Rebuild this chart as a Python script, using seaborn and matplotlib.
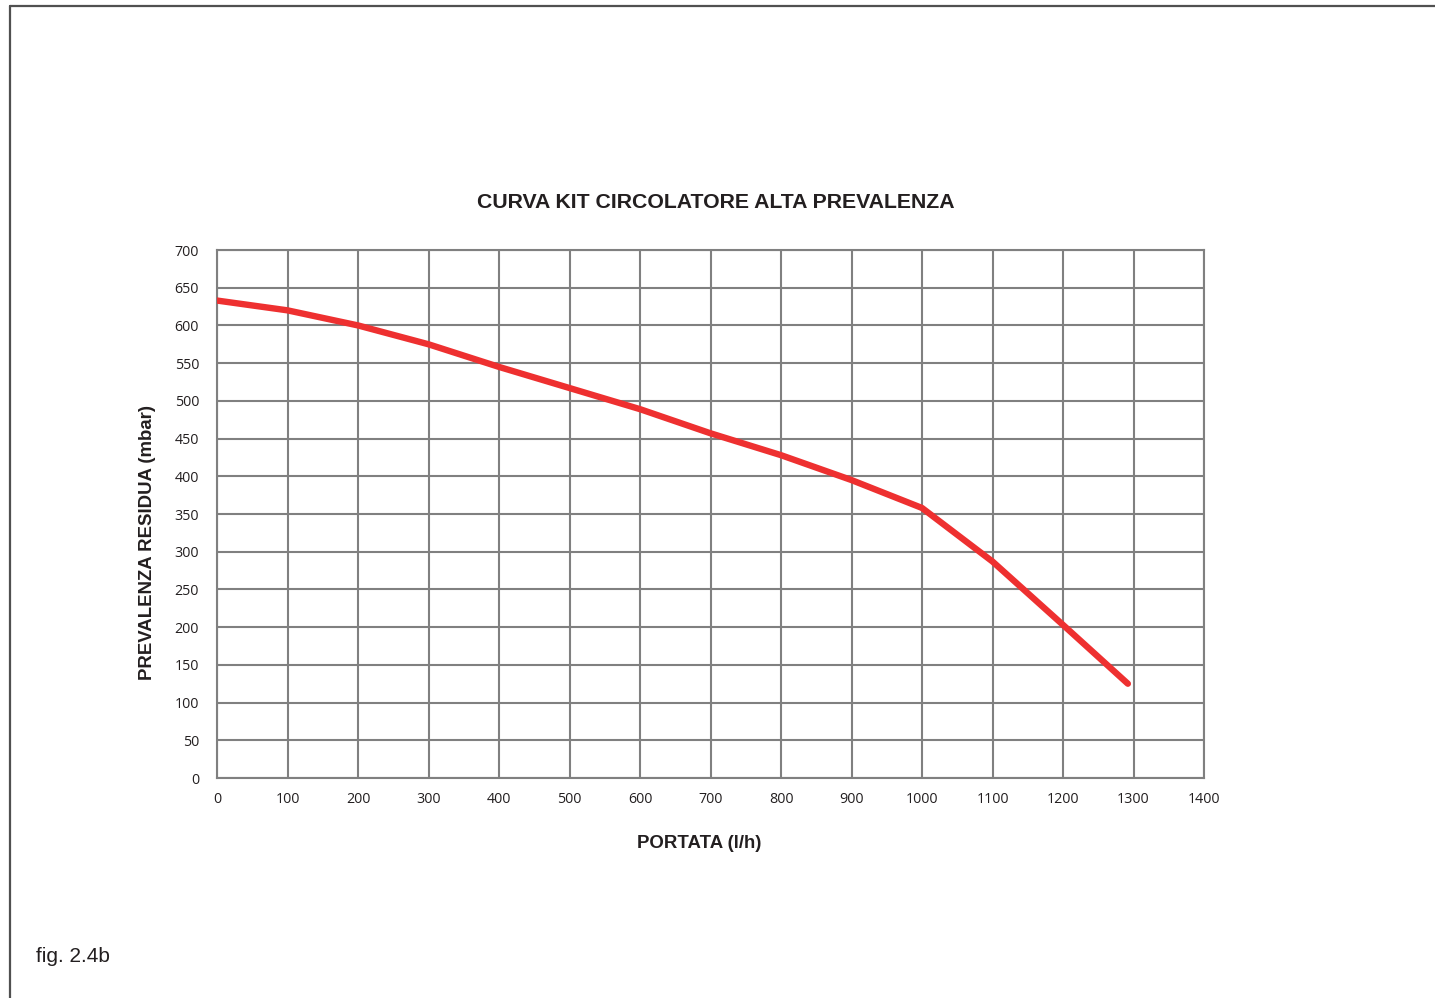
import matplotlib
matplotlib.use("Agg")
import matplotlib.pyplot as plt
import seaborn as sns
import pandas as pd
from matplotlib.lines import Line2D

portata = [0, 100, 200, 300, 400, 500, 600, 700, 800, 900, 1000, 1100, 1200, 1292]
prevalenza = [633, 620, 600, 575, 545, 517, 489, 457, 428, 395, 358, 287, 203, 125]
x_ticks = list(range(0, 1401, 100))
y_ticks = list(range(0, 701, 50))

title = "CURVA KIT CIRCOLATORE ALTA PREVALENZA"
xlabel = "PORTATA (l/h)"
ylabel = "PREVALENZA RESIDUA (mbar)"
fig_label = "fig. 2.4b"

sns.set_style("white")
plt.rcParams['font.family'] = ['Liberation Sans', 'DejaVu Sans']
txt_c = "#231f20"

df = pd.DataFrame({"portata": portata, "prevalenza": prevalenza})

fig = plt.figure(figsize=(14.35, 9.98), dpi=100)
ax = fig.add_axes([217/1435, 1-778/998, (1204-217)/1435, (778-250)/998])

grid_c = "#808080"
sns.lineplot(data=df, x="portata", y="prevalenza", ax=ax, color="#ee3030",
             linewidth=4.6, solid_capstyle="round", solid_joinstyle="round", zorder=5)

ax.set_xlim(0, 1400)
ax.set_ylim(0, 700)
ax.set_xticks(x_ticks)
ax.set_yticks(y_ticks)
ax.set_xticklabels([str(v) for v in x_ticks], fontfamily="Open Sans", fontsize=10.3, color=txt_c)
ax.set_yticklabels([str(v) for v in y_ticks], fontfamily="Open Sans", fontsize=10.3, color=txt_c)
ax.tick_params(axis="both", length=0)
ax.tick_params(axis="x", pad=10)
ax.tick_params(axis="y", pad=13)
ax.grid(True, color=grid_c, linewidth=1.5)
ax.set_axisbelow(True)
for s in ax.spines.values():
    s.set_visible(True)
    s.set_color(grid_c)
    s.set_linewidth(1.5)

ax.set_xlabel(xlabel, fontsize=13.4, fontweight="bold", color=txt_c)
ax.xaxis.label.set_va("center")
ax.xaxis.set_label_coords((699-217)/987, -(844-778)/528)
ax.set_ylabel(ylabel, fontsize=13.4, fontweight="bold", color=txt_c)
ax.yaxis.label.set_va("center")
ax.yaxis.set_label_coords((147-217)/987, (778-543)/528)
ax.set_title(title, fontsize=15.3, fontweight="bold", color=txt_c,
             x=(716-217)/987, y=(778-203)/528, va="center", pad=0)

fig.text(36/1435, 1-956/998, fig_label, fontsize=15, va="center", ha="left", color=txt_c)

frame_c = "#505050"
fig.add_artist(Line2D([10/1435, 1.0], [1-6/998, 1-6/998], color=frame_c, linewidth=1.6,
                      transform=fig.transFigure))
fig.add_artist(Line2D([10/1435, 10/1435], [0, 1-6/998], color=frame_c, linewidth=1.6,
                      transform=fig.transFigure))

fig.savefig("out.png", dpi=100)
